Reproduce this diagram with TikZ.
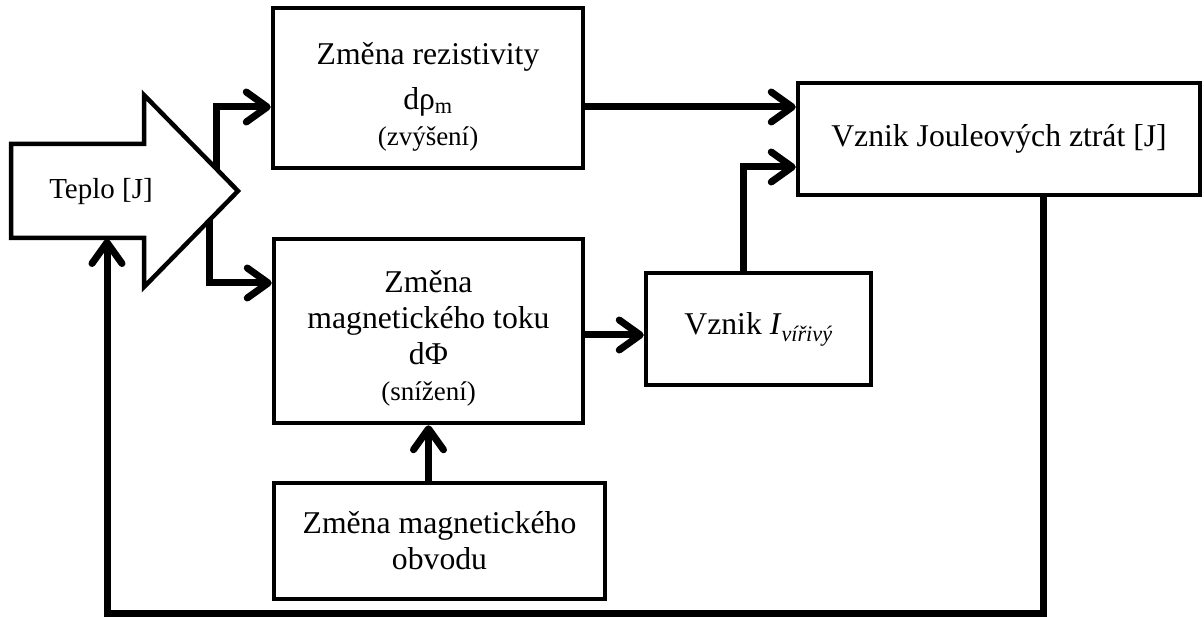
\documentclass[tikz,border=0pt]{standalone}
\usepackage{fontspec}
\setmainfont{Liberation Serif}
\usetikzlibrary{arrows.meta,calc}

\begin{document}
\begin{tikzpicture}[x=1pt, y=-1pt,
	box/.style = {shape=rectangle, draw, line width=4.5pt,
		align=center, inner sep=0pt,
		font=\fontsize{31.7}{36}\selectfont},
	conn/.style = {line width=7pt,
		-{Straight Barb[length=21pt, width=30pt, round]}}]
	\useasboundingbox (0,0) rectangle (1204,617);
	\coordinate (hu) at (144,95);
	\coordinate (tip) at (238,191);
	\coordinate (hd) at (144,287);
	\coordinate (tb) at (107,239);
	\draw[line width=4.5pt] (11,144) -- (144,144) -- (hu) -- (tip)
		-- (hd) -- (144,238) -- (11,238) -- cycle;
	\node[font=\fontsize{29}{32}\selectfont] (teplo) at (101,192) {Teplo [J]};
	\node[box, minimum width=310, minimum height=160] (rez) at (428,88)
		{\rule{0pt}{40pt}Změna rezistivity\\[9pt] dρ\textsubscript{m}\\ {\fontsize{27}{30}\selectfont (zvýšení)}};
	\node[box, minimum width=309, minimum height=184] (mag) at (428.5,331)
		{\rule{0pt}{36pt}Změna\\ magnetického toku\\ dΦ\\ {\fontsize{27}{30}\selectfont (snížení)}};
	\node[box, minimum width=331, minimum height=116] (obv) at (439.5,541)
		{Změna magnetického\\ obvodu};
	\node[box, minimum width=225, minimum height=112] (vir) at (758.5,329)
		{Vznik \textit{I}\textsubscript{\textit{vířivý}}};
	\node[box, minimum width=402, minimum height=112] (joule) at (999,139)
		{Vznik Jouleových ztrát [J]};
	\coordinate (e1) at ($(hu)!0.766!(tip)$);
	\coordinate (e2) at ($(hd)!0.70!(tip)$);
	\draw[conn] (e1) |- (rez.west |- 0,107);
	\draw[conn] (e2) |- (mag.west |- 0,283);
	\draw[conn] (rez.east |- 0,107) -- (joule.west |- 0,107);
	\draw[conn] (mag.east |- 0,335) -- (vir.west |- 0,335);
	\draw[conn] (vir.north -| 743,0) |- (joule.west |- 0,167);
	\draw[conn] (obv.north -| mag.south) -- (mag.south);
	\draw[conn] (joule.south -| 1043,0) |- (107,613) -- (tb);
\end{tikzpicture}
\end{document}
